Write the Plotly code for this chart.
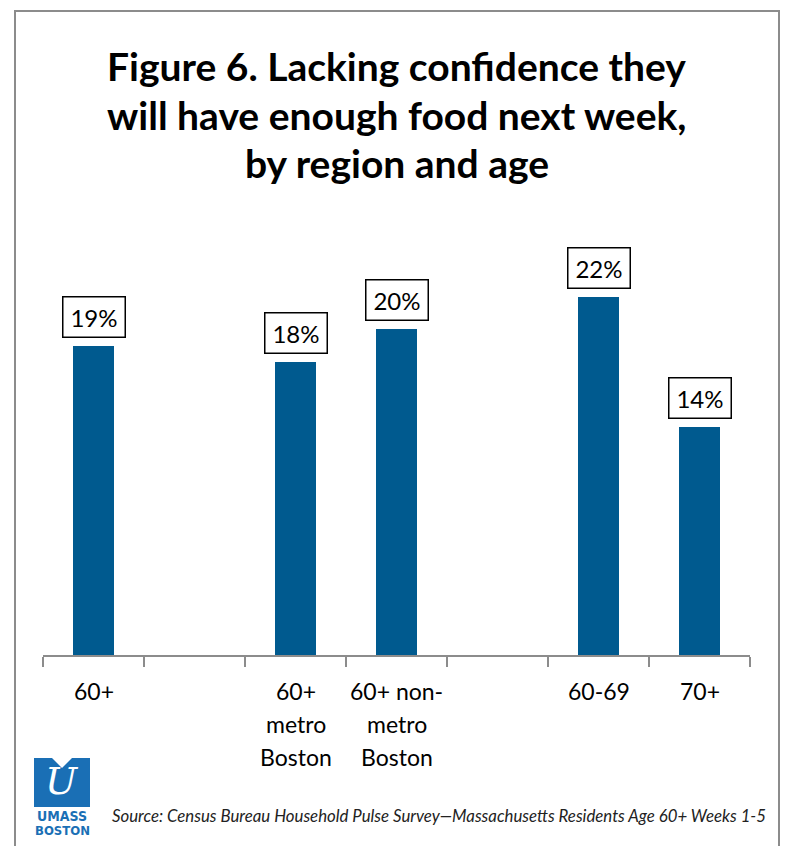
import plotly.graph_objects as go

# Survey results (percent lacking confidence in next week's food supply)
categories = ["60+", "", "60+ metro Boston", "60+ non-metro Boston", "", "60-69", "70+"]
label_lines = [["60+"], [], ["60+", "metro", "Boston"], ["60+ non-", "metro", "Boston"], [], ["60-69"], ["70+"]]
values = [19, None, 18, 20, None, 22, 14]
value_labels = ["19%", None, "18%", "20%", None, "22%", "14%"]
title_lines = ["Figure 6. Lacking confidence they", "will have enough food next week,", "by region and age"]
source_note = "Source: Census Bureau Household Pulse Survey\u2014Massachusetts Residents Age 60+ Weeks 1-5"

W, H = 785, 846
L, R, T, B = 43, 750, 248, 655          # plot area in pixels
Y_MAX = 25

BAR_COLOR = "#005a8f"
GRID_GRAY = "#8c8c8c"
FONT = "Lato"


def px_x(px):
    return (px - L) / (R - L)


def px_y(py):
    return (B - py) / (B - T)


xs = list(range(len(categories)))
bar_x = [x for x, v in zip(xs, values) if v is not None]
bar_y = [v for v in values if v is not None]

fig = go.Figure(
    go.Bar(
        x=bar_x,
        y=bar_y,
        width=0.4,
        marker=dict(color=BAR_COLOR, line=dict(width=0)),
        hoverinfo="skip",
    )
)

annotations = []

# title, one line per annotation for tight line spacing
for i, line in enumerate(title_lines):
    annotations.append(dict(
        x=0.5, y=px_y(66 + 48.5 * i), xref="paper", yref="paper", text=f"<b>{line}</b>",
        showarrow=False, xanchor="center", yanchor="middle",
        font=dict(family=FONT, size=39, color="black"),
    ))

# boxed value labels above each bar
for x, v, t in zip(xs, values, value_labels):
    if v is None:
        continue
    annotations.append(dict(
        x=x, y=v, xref="x", yref="y", text=t, showarrow=False,
        yanchor="bottom", yshift=8,
        font=dict(family=FONT, size=24, color="black"),
        bgcolor="white", bordercolor="black", borderwidth=1.5, borderpad=3.5,
        width=54, height=32,
    ))

# category labels, one annotation per line
for x, lines in zip(xs, label_lines):
    for i, line in enumerate(lines):
        annotations.append(dict(
            x=x, y=0, xref="x", yref="y", text=line, showarrow=False,
            yanchor="middle", yshift=-(36 + 33 * i),
            font=dict(family=FONT, size=23, color="black"),
        ))

# source note
annotations.append(dict(
    x=px_x(110), y=px_y(815), xref="paper", yref="paper", xanchor="left", yanchor="middle",
    text=f"<i>{source_note}</i>",
    showarrow=False, font=dict(family=FONT, size=16.8, color="#222222"),
))

# UMass Boston logo: blue block with a script U and the wordmark below
LOGO_BLUE = "#1a6fb5"
annotations.append(dict(
    x=px_x(62), y=px_y(781), xref="paper", yref="paper", text="<i>U</i>", showarrow=False,
    xanchor="center", yanchor="middle",
    font=dict(family="DejaVu Serif", size=38, color="white"),
))
annotations.append(dict(
    x=px_x(62), y=px_y(816), xref="paper", yref="paper", text="<b>UMASS</b>", showarrow=False,
    xanchor="center", yanchor="middle", font=dict(family="DejaVu Sans Condensed", size=14, color=LOGO_BLUE),
))
annotations.append(dict(
    x=px_x(62), y=px_y(830), xref="paper", yref="paper", text="<b>BOSTON</b>", showarrow=False,
    xanchor="center", yanchor="middle", font=dict(family="DejaVu Sans Condensed", size=13, color=LOGO_BLUE),
))

shapes = [
    # outer frame
    dict(type="rect", xref="paper", yref="paper",
         x0=px_x(15), x1=px_x(779), y0=px_y(860), y1=px_y(11),
         line=dict(color=GRID_GRAY, width=2), fillcolor="rgba(0,0,0,0)", layer="below"),
    # logo block
    dict(type="rect", xref="paper", yref="paper",
         x0=px_x(34), x1=px_x(90), y0=px_y(807), y1=px_y(758),
         line=dict(width=0), fillcolor=LOGO_BLUE),
    dict(type="path", xref="paper", yref="paper",
         path=(f"M {px_x(52)} {px_y(758)} L {px_x(62)} {px_y(768)} "
               f"L {px_x(72)} {px_y(758)} Z"),
         line=dict(width=0), fillcolor="white"),
]

fig.update_layout(
    width=W, height=H,
    margin=dict(l=L, r=W - R, t=T, b=H - B, pad=0),
    paper_bgcolor="white", plot_bgcolor="white",
    showlegend=False,
    xaxis=dict(
        range=[-0.5, len(categories) - 0.5],
        showgrid=False, zeroline=False,
        showline=True, linecolor=GRID_GRAY, linewidth=2,
        tickvals=[i - 0.5 for i in range(len(categories) + 1)],
        showticklabels=False,
        ticks="outside", ticklen=10, tickwidth=2, tickcolor=GRID_GRAY,
        fixedrange=True,
    ),
    yaxis=dict(range=[0, Y_MAX], visible=False, fixedrange=True),
    annotations=annotations,
    shapes=shapes,
    bargap=0,
)

fig.write_html("out.html")
